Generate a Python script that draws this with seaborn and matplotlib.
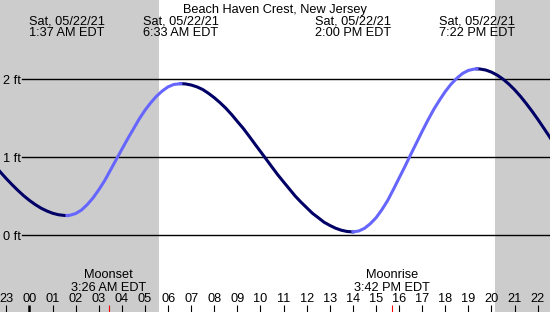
import matplotlib
matplotlib.use("Agg")
import matplotlib.pyplot as plt
import pandas as pd
import seaborn as sns

# tide curve (hours since midnight 05/22, feet)
tide_hours = [-1.5, -1.25, -1.0, -0.75, -0.5, -0.25, 0.0, 0.25, 0.5, 0.75, 1.0, 1.25, 1.5, 1.62,
              1.75, 2.0, 2.25, 2.5, 2.75, 3.0, 3.25, 3.5, 3.75, 4.0, 4.25, 4.5, 4.75, 5.0, 5.25,
              5.5, 5.75, 6.0, 6.25, 6.55,
              6.75, 7.0, 7.25, 7.5, 7.75, 8.0, 8.25, 8.5, 8.75, 9.0, 9.25, 9.5, 9.75, 10.0, 10.25,
              10.5, 10.75, 11.0, 11.25, 11.5, 11.75, 12.0, 12.25, 12.5, 12.75, 13.0, 13.25, 13.5,
              13.75, 14.0,
              14.25, 14.5, 14.75, 15.0, 15.25, 15.5, 15.75, 16.0, 16.25, 16.5, 16.75, 17.0, 17.25,
              17.5, 17.75, 18.0, 18.25, 18.5, 18.75, 19.0, 19.25, 19.37,
              19.5, 19.75, 20.0, 20.25, 20.5, 20.75, 21.0, 21.25, 21.5, 21.75, 22.0, 22.25, 22.5,
              22.75, 23.0]
tide_feet = [0.889, 0.803, 0.721, 0.644, 0.571, 0.503, 0.443, 0.390, 0.344, 0.308, 0.279, 0.260, 0.251, 0.25,
             0.253, 0.275, 0.32, 0.39, 0.475, 0.58, 0.695, 0.83, 0.965, 1.10, 1.233, 1.36, 1.488, 1.60, 1.696,
             1.78, 1.847, 1.90, 1.93, 1.94,
             1.937, 1.923, 1.899, 1.865, 1.816, 1.76, 1.696, 1.625, 1.544, 1.455, 1.368, 1.27, 1.169, 1.07, 0.97,
             0.87, 0.771, 0.68, 0.59, 0.50, 0.422, 0.35, 0.278, 0.222, 0.164, 0.123, 0.087, 0.061,
             0.045, 0.04,
             0.051, 0.085, 0.144, 0.22, 0.322, 0.44, 0.582, 0.73, 0.877, 1.03, 1.18, 1.33, 1.474,
             1.61, 1.729, 1.84, 1.934, 2.01, 2.072, 2.11, 2.127, 2.13,
             2.128, 2.115, 2.088, 2.049, 1.998, 1.935, 1.862, 1.779, 1.687, 1.589, 1.485, 1.376, 1.265,
             1.151, 1.04]

extreme_hours = [1.62, 6.55, 14.0, 19.37]
extreme_labels = ["1:37 AM EDT", "6:33 AM EDT", "2:00 PM EDT", "7:22 PM EDT"]
date_label = "Sat, 05/22/21"

moon_hours = [3.43, 15.70]
moon_names = ["Moonset", "Moonrise"]
moon_labels = ["3:26 AM EDT", "3:42 PM EDT"]

sunrise, sunset = 5.62, 20.15
hour_ticks = list(range(-1, 23))
ft_levels = [0, 1, 2]
title = "Beach Haven Crest, New Jersey"

W, H = 550, 312
x0, x1 = -29.5 / 23.1, (W - 29.5) / 23.1
y0, y1 = -(H - 235) / 78, 235 / 78

plt.rcParams["font.family"] = ["Liberation Sans", "DejaVu Sans"]
FS = 9.2

# split the curve into rising / falling stretches between extremes
idx = [tide_hours.index(h) for h in extreme_hours]
bounds = [0] + idx + [len(tide_hours) - 1]
rows = []
for k in range(len(bounds) - 1):
    a, b = bounds[k], bounds[k + 1]
    trend = "rising" if tide_feet[b] > tide_feet[a] else "falling"
    for i in range(a, b + 1):
        rows.append({"hour": tide_hours[i], "feet": tide_feet[i], "seg": k, "trend": trend})
df = pd.DataFrame(rows)

fig = plt.figure(figsize=(W / 100, H / 100), dpi=100)
ax = fig.add_axes([0, 0, 1, 1])
ax.set_xlim(x0, x1)
ax.set_ylim(y0, y1)

ax.axvspan(x0, sunrise, color="#cccccc", lw=0, zorder=0)
ax.axvspan(sunset, x1, color="#cccccc", lw=0, zorder=0)

for v in ft_levels:
    ax.axhline(v, xmin=22 / W, xmax=1, color="black", lw=1.0, zorder=1)
    ax.annotate(f"{v} ft", xy=(2.7 / W, v), xycoords=ax.get_yaxis_transform(),
                xytext=(0, -3.6), textcoords="offset points", va="baseline", ha="left", fontsize=FS)

sns.lineplot(data=df, x="hour", y="feet", hue="trend", units="seg", estimator=None, sort=False,
             palette={"rising": "#6666ff", "falling": "#000066"}, lw=2.2, legend=False, ax=ax, zorder=3)
ax.set_axis_off()

def fy(px):
    return 1 - px / H

tx = ax.get_xaxis_transform()
ax.text(0.5, fy(13.3), title, transform=ax.transAxes, ha="center", va="baseline", fontsize=FS)
for h, lab in zip(extreme_hours, extreme_labels):
    ax.text(h, fy(25), date_label, transform=tx, ha="center", va="baseline", fontsize=FS)
    ax.text(h, fy(36), lab, transform=tx, ha="center", va="baseline", fontsize=FS)

for h, name, lab in zip(moon_hours, moon_names, moon_labels):
    ax.text(h, fy(278.3), name, transform=tx, ha="center", va="baseline", fontsize=FS)
    ax.text(h, fy(290.7), lab, transform=tx, ha="center", va="baseline", fontsize=FS)
    ax.vlines(h, fy(312), fy(305), transform=tx, color="red", lw=0.8)

for h in hour_ticks:
    ax.text(h, fy(302.3), f"{h % 24:02d}", transform=tx, ha="center", va="baseline", fontsize=FS)
    ax.vlines(h, fy(312), fy(305), transform=tx, color="black", lw=1.8 if h == 0 else 0.8)

fig.savefig("out.png", dpi=100)
